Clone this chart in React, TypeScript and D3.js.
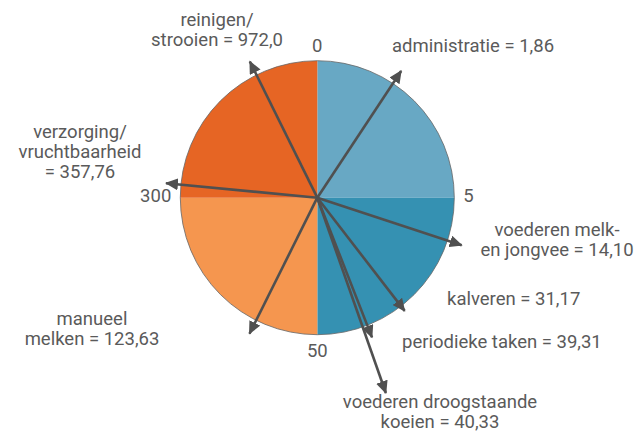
import React from "react";
import * as d3 from "d3";

// category names, split over the lines they take in the labels
const categories = [
  ["administratie"],
  ["voederen melk-", "en jongvee"],
  ["kalveren"],
  ["periodieke taken"],
  ["voederen droogstaande", "koeien"],
  ["manueel", "melken"],
  ["verzorging/", "vruchtbaarheid", ""],
  ["reinigen/", "strooien"],
];
const values = [1.86, 14.1, 31.17, 39.31, 40.33, 123.63, 357.76, 972.0];

// radial axis: one quadrant per tick step
const tickValues = [0, 5, 50, 300];
const tickLabels = ["0", "5", "50", "300"];
const axisEnd = 1250; // unlabeled end of the last quadrant (estimated)
const quadrantColors = ["#68a8c4", "#3591b2", "#f5964f", "#e66524"];

// where each label sits (first baseline) and how long its arrow is
const labelLayout = [
  { x: 392, y: 52, anchor: "start", len: 152 },
  { x: 557, y: 236, anchor: "middle", len: 152 },
  { x: 447, y: 305, anchor: "start", len: 143 },
  { x: 402, y: 348, anchor: "start", len: 150 },
  { x: 440, y: 408, anchor: "middle", len: 207 },
  { x: 92, y: 325, anchor: "middle", len: 152 },
  { x: 80, y: 138, anchor: "middle", len: 152 },
  { x: 217, y: 26, anchor: "middle", len: 152 },
];

const W = 641;
const H = 434;
const cx = 317.3;
const cy = 197.7;
const R = 137;
const textColor = "#5a5a5a";
const arrowColor = "#505050";

const fmt = (v: number) =>
  (v >= 100 && Number.isInteger(Math.round(v * 100) / 10) ? v.toFixed(1) : v.toFixed(2)).replace(".", ",");

export default function App() {
  const angle = d3
    .scaleLinear()
    .domain([...tickValues, axisEnd])
    .range([0, 0.5, 1, 1.5, 2].map((t) => t * Math.PI));

  const bounds = [...tickValues, axisEnd];
  const arc = d3.arc<any>().innerRadius(0).outerRadius(R);

  const tickR = R + 9;

  return (
    <svg
      width={W}
      height={H}
      style={{ position: "absolute", left: 0, top: 0, display: "block" }}
      fontFamily="Roboto, 'DejaVu Sans', sans-serif"
    >
      <defs>
        <marker
          id="head"
          markerUnits="userSpaceOnUse"
          markerWidth={14}
          markerHeight={12}
          refX={12}
          refY={6}
          orient="auto"
        >
          <path d="M0,0 L13,6 L0,12 Z" fill={arrowColor} />
        </marker>
      </defs>

      <g transform={`translate(${cx},${cy})`}>
        {tickValues.map((t, i) => (
          <path
            key={"q" + i}
            d={arc({ startAngle: angle(bounds[i]), endAngle: angle(bounds[i + 1]) }) as string}
            fill={quadrantColors[i]}
          />
        ))}
        <circle r={R} fill="none" stroke="#666" strokeWidth={0.8} />

        {tickValues.map((t, i) => {
          const a = angle(t);
          const s = Math.sin(a);
          const c = Math.cos(a);
          const anchor = s > 0.5 ? "start" : s < -0.5 ? "end" : "middle";
          const base = c > 0.5 ? "auto" : c < -0.5 ? "hanging" : "central";
          return (
            <text
              key={"t" + i}
              x={tickR * s}
              y={-tickR * c + (Math.abs(s) > 0.5 ? -2 : 0)}
              textAnchor={anchor}
              dominantBaseline={base}
              fontSize={18.5}
              fill={textColor}
            >
              {tickLabels[i]}
            </text>
          );
        })}

        {values.map((v, i) => {
          const a = angle(v);
          const len = labelLayout[i].len;
          return (
            <line
              key={"a" + i}
              x1={0}
              y1={0}
              x2={len * Math.sin(a)}
              y2={-len * Math.cos(a)}
              stroke={arrowColor}
              strokeWidth={2.6}
              markerEnd="url(#head)"
            />
          );
        })}
      </g>

      {categories.map((lines, i) => {
        const L = labelLayout[i];
        const all = lines.map((l, j) =>
          j === lines.length - 1 ? (l ? l + " = " : "= ") + fmt(values[i]) : l
        );
        return (
          <text
            key={"l" + i}
            x={L.x}
            y={L.y}
            textAnchor={L.anchor}
            fontSize={18.5}
            fill={textColor}
          >
            {all.map((l, j) => (
              <tspan key={j} x={L.x} dy={j === 0 ? 0 : 20}>
                {l}
              </tspan>
            ))}
          </text>
        );
      })}
    </svg>
  );
}
